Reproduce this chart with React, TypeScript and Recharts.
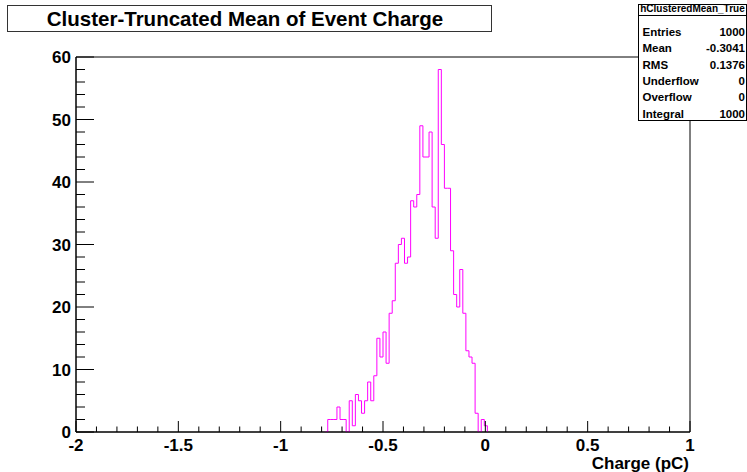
import React from 'react';
import { LineChart, Line, XAxis, YAxis, ReferenceArea } from 'recharts';

// Histogram definition: 200 bins from -2 to 1 (pC)
const histLow = -2;
const binWidth = 0.015;
const firstBin = 82; // index of first non-empty bin
const binCounts = [
  2, 2, 2, 4, 2, 2, 0, 5, 1, 6,
  5, 3, 5, 8, 5, 9, 15, 12, 16, 11,
  19, 21, 27, 30, 31, 27, 28, 37, 36, 38,
  49, 44, 44, 48, 36, 31, 58, 46, 39, 39,
  29, 22, 20, 26, 19, 13, 12, 11, 3, 0,
  2, 1,
];

const xMajorTicks = [-2, -1.5, -1, -0.5, 0, 0.5, 1];
const xMinorTicks = [
  -2, -1.9, -1.8, -1.7, -1.6, -1.5, -1.4, -1.3, -1.2, -1.1, -1, -0.9, -0.8, -0.7, -0.6, -0.5,
  -0.4, -0.3, -0.2, -0.1, 0, 0.1, 0.2, 0.3, 0.4, 0.5, 0.6, 0.7, 0.8, 0.9, 1,
];
const yMajorTicks = [0, 10, 20, 30, 40, 50, 60];
const yMinorTicks = [
  0, 2, 4, 6, 8, 10, 12, 14, 16, 18, 20, 22, 24, 26, 28, 30, 32, 34, 36, 38, 40, 42, 44, 46, 48, 50,
  52, 54, 56, 58, 60,
];

const titleText = 'Cluster-Truncated Mean of Event Charge';
const xTitle = 'Charge (pC)';
const statsName = 'hClusteredMean_True';
const statsLabels = ['Entries', 'Mean', 'RMS', 'Underflow', 'Overflow', 'Integral'];
const statsValues = ['1000', '-0.3041', '0.1376', '0', '0', '1000'];

const edge = (i: number) => histLow + binWidth * i;
const histData = [
  { x: edge(firstBin - 1), count: 0 },
  ...binCounts.map((c, k) => ({ x: edge(firstBin + k), count: c })),
  { x: edge(firstBin + binCounts.length), count: 0 },
];

const FONT = '"Liberation Sans", Arial, Helvetica, sans-serif';

const isMajor = (v: number, list: number[]) => list.some((m) => Math.abs(m - v) < 1e-9);

const XTick = (props: any) => {
  const { x, y, payload } = props;
  const v = payload.value as number;
  const major = isMajor(v, xMajorTicks);
  return (
    <g>
      <line x1={x} x2={x} y1={y} y2={y - (major ? 11 : 5.5)} stroke="#000" strokeWidth={1} />
      {major && (
        <text x={x} y={y + 19} textAnchor="middle" fontFamily={FONT} fontWeight="bold" fontSize={17} fill="#000">
          {String(v)}
        </text>
      )}
    </g>
  );
};

const YTick = (props: any) => {
  const { x, y, payload } = props;
  const v = payload.value as number;
  const major = isMajor(v, yMajorTicks);
  return (
    <g>
      <line x1={x} x2={x + (major ? 18 : 9)} y1={y} y2={y} stroke="#000" strokeWidth={1} />
      {major && (
        <text x={x - 5} y={y + 6} textAnchor="end" fontFamily={FONT} fontWeight="bold" fontSize={17} fill="#000">
          {String(v)}
        </text>
      )}
    </g>
  );
};

export default function App() {
  return (
    <div style={{ position: 'absolute', left: 0, top: 0, width: 747, height: 472, background: '#fff' }}>
      <LineChart
        width={747}
        height={472}
        data={histData}
        margin={{ top: 57, right: 57, bottom: 10, left: 16 }}
      >
        <XAxis
          dataKey="x"
          type="number"
          domain={[-2, 1]}
          ticks={xMinorTicks}
          interval={0}
          tickSize={0}
          tickMargin={0}
          tick={<XTick />}
          tickLine={false}
          axisLine={{ stroke: '#000' }}
          height={30}
          allowDataOverflow
        />
        <YAxis
          type="number"
          domain={[0, 60]}
          ticks={yMinorTicks}
          interval={0}
          tickSize={0}
          tickMargin={0}
          tick={<YTick />}
          tickLine={false}
          axisLine={{ stroke: '#000' }}
          width={60}
          allowDataOverflow
        />
        <ReferenceArea x1={-2} x2={1} y1={0} y2={60} fill="none" fillOpacity={0} stroke="#000" strokeWidth={1} />
        <Line
          type="stepAfter"
          dataKey="count"
          stroke="#ff00ff"
          strokeWidth={1}
          dot={false}
          activeDot={false}
          isAnimationActive={false}
        />
      </LineChart>
      <svg
        width={747}
        height={472}
        style={{ position: 'absolute', left: 0, top: 0, pointerEvents: 'none' }}
      >
        <rect x={7.5} y={5.5} width={484} height={26} fill="#fff" stroke="#333" strokeWidth={1} />
        <text x={245} y={26.3} textAnchor="middle" fontFamily={FONT} fontWeight="bold" fontSize={20.5} fill="#000">
          {titleText}
        </text>
        <text x={689} y={469} textAnchor="end" fontFamily={FONT} fontWeight="bold" fontSize={17} fill="#000">
          {xTitle}
        </text>
        <rect x={638.5} y={4.5} width={108} height={116} fill="#fff" stroke="#000" strokeWidth={1} />
        <line x1={638.5} x2={746.5} y1={15.5} y2={15.5} stroke="#000" strokeWidth={1} />
        <text x={692.5} y={12} textAnchor="middle" fontFamily={FONT} fontWeight="bold" fontSize={10} fill="#000">
          {statsName}
        </text>
        {statsLabels.map((lab, k) => (
          <g key={lab}>
            <text x={642.5} y={36 + 16.3 * k} fontFamily={FONT} fontWeight="bold" fontSize={11.5} fill="#000">
              {lab}
            </text>
            <text x={745} y={36 + 16.3 * k} textAnchor="end" fontFamily={FONT} fontWeight="bold" fontSize={11.5} fill="#000">
              {statsValues[k]}
            </text>
          </g>
        ))}
      </svg>
    </div>
  );
}
